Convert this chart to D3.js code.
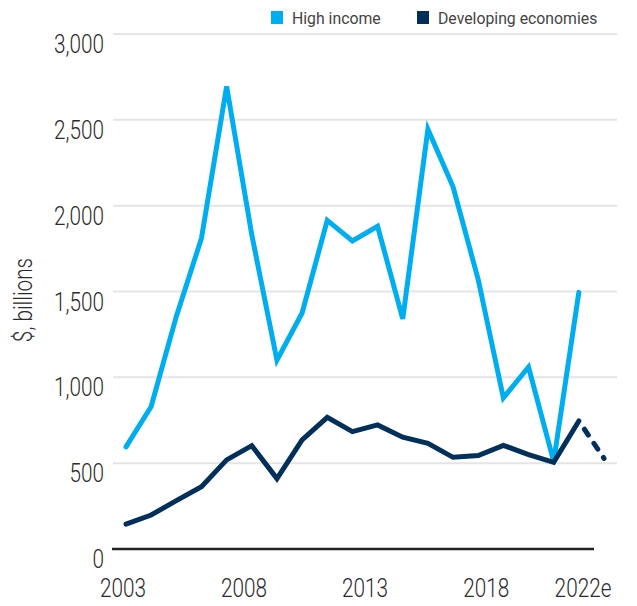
<!DOCTYPE html>
<html>
<head>
<meta charset="utf-8">
<script src="https://cdn.jsdelivr.net/npm/d3@7"></script>
<style>
  html, body { margin: 0; padding: 0; background: #fff; }
  svg { display: block; }
  text { font-family: Roboto, "Noto Sans", sans-serif; font-weight: 300; }
  text.legend { font-weight: 400; }
</style>
</head>
<body>
<svg id="chart" width="637" height="606"></svg>
<script>
const years = [2003,2004,2005,2006,2007,2008,2009,2010,2011,2012,2013,2014,2015,2016,2017,2018,2019,2020,2021];
const highIncome = [595,830,1355,1810,2695,1830,1100,1375,1915,1795,1880,1340,2445,2110,1570,880,1060,510,1495];
const developing = [145,198,282,363,519,602,410,635,767,684,723,651,616,534,544,604,550,505,746];
const developingEstYears = [2021, 2022];
const developingEst = [746, 528];
const yTicks = [0,500,1000,1500,2000,2500,3000];
const xTickYears = [2003,2008,2013,2018,2022];
const xTickLabels = ["2003","2008","2013","2018","2022e"];
const seriesNames = ["High income","Developing economies"];
const colors = ["#00aeef","#00305a"];

const svg = d3.select("#chart");
const x = d3.scaleLinear().domain([2003,2022]).range([126,604]);
const xLab = d3.scaleLinear().domain([2003,2022]).range([123,583]);
const y = d3.scaleLinear().domain([0,3000]).range([549,34]);
const narrow = 0.83;

// gridlines
svg.append("g").selectAll("line").data(yTicks.filter(d=>d>0)).join("line")
  .attr("x1",113).attr("x2",617)
  .attr("y1",d=>y(d)).attr("y2",d=>y(d))
  .attr("stroke","#e5e5e5").attr("stroke-width",2);

// y tick labels (hanging below the line)
svg.append("g").selectAll("text").data(yTicks).join("text")
  .attr("transform",d=>`translate(104,${y(d)+19}) scale(${narrow},1)`)
  .attr("text-anchor","end")
  .attr("font-size",25).attr("fill","#2b2b2b")
  .text(d=>d3.format(",")(d));

// zero axis
svg.append("line").attr("x1",112).attr("x2",594)
  .attr("y1",y(0)).attr("y2",y(0))
  .attr("stroke","#222").attr("stroke-width",2.5);

// x tick labels
svg.append("g").selectAll("text").data(xTickYears).join("text")
  .attr("transform",d=>`translate(${xLab(d)},597) scale(${narrow},1)`)
  .attr("text-anchor","middle")
  .attr("font-size",25).attr("fill","#2b2b2b")
  .text((d,i)=>xTickLabels[i]);

// y title
svg.append("text")
  .attr("transform",`translate(32,300) rotate(-90) scale(${narrow},1)`)
  .attr("text-anchor","middle")
  .attr("font-size",25).attr("fill","#2b2b2b")
  .text("$, billions");

const line = d3.line().x(d=>x(d[0])).y(d=>y(d[1]));

svg.append("path").datum(years.map((yr,i)=>[yr,highIncome[i]]))
  .attr("d",line).attr("fill","none")
  .attr("stroke",colors[0]).attr("stroke-width",5)
  .attr("stroke-linejoin","miter").attr("stroke-linecap","round");

svg.append("path").datum(years.map((yr,i)=>[yr,developing[i]]))
  .attr("d",line).attr("fill","none")
  .attr("stroke",colors[1]).attr("stroke-width",5)
  .attr("stroke-linejoin","miter").attr("stroke-linecap","round");

svg.append("path").datum(developingEstYears.map((yr,i)=>[yr,developingEst[i]]))
  .attr("d",line).attr("fill","none")
  .attr("stroke",colors[1]).attr("stroke-width",5)
  .attr("stroke-linecap","round")
  .attr("stroke-dasharray","7,10").attr("stroke-dashoffset",-10);

// legend
const legX = [271, 417];
const leg = svg.append("g");
seriesNames.forEach((name,i)=>{
  leg.append("rect").attr("x",legX[i]).attr("y",11).attr("width",12).attr("height",13).attr("fill",colors[i]);
  leg.append("text").attr("class","legend").attr("transform",`translate(${legX[i]+21},24) scale(0.93,1)`)
    .attr("font-size",17).attr("fill","#444").text(name);
});
</script>
</body>
</html>
